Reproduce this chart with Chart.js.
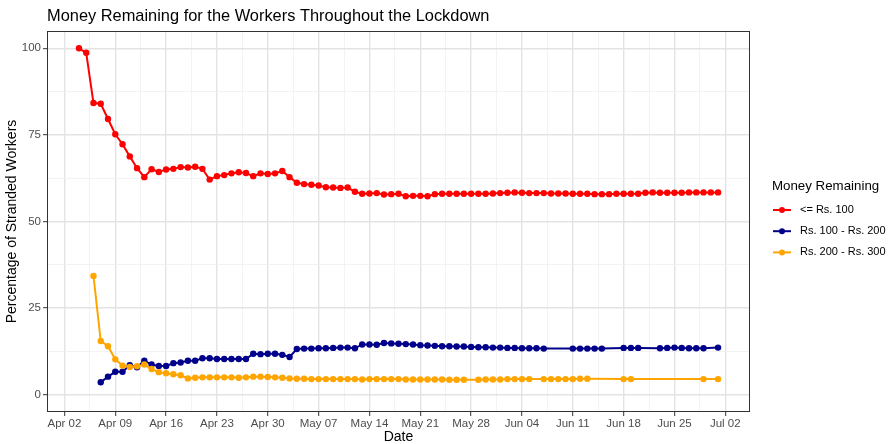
<!DOCTYPE html>
<html>
<head>
<meta charset="utf-8">
<script src="https://cdn.jsdelivr.net/npm/chart.js@4.4.1/dist/chart.umd.min.js"></script>
<style>
  html, body { margin: 0; padding: 0; background: #fff; }
</style>
</head>
<body>
<canvas id="grafico" width="890" height="444"></canvas>
<script>
// dados: um valor por dia a partir de 04 abr 2020 (null = dia sem registro)
const axisStart = "2020-04-02";
const firstDate = "2020-04-04";
const xTickLabels = ["Apr 02", "Apr 09", "Apr 16", "Apr 23", "Apr 30", "May 07", "May 14",
  "May 21", "May 28", "Jun 04", "Jun 11", "Jun 18", "Jun 25", "Jul 02"];
const yTickLabels = [0, 25, 50, 75, 100];
const seriesNames = ["<= Rs. 100", "Rs. 100 - Rs. 200", "Rs. 200 - Rs. 300"];

const ate100 = [
  // abr 04-30
  100, 98.7, 84.2, 84.0, 79.6, 75.2, 72.3, 68.8, 65.4, 62.8, 65.1, 64.3, 65.0, 65.2,
  65.7, 65.6, 65.8, 65.2, 62.1, 63.1, 63.4, 63.9, 64.2, 64.0, 63.1, 63.9, 63.7,
  // mai
  63.9, 64.6, 62.8, 61.2, 60.8, 60.6, 60.4, 59.9, 59.8, 59.7, 59.8, 58.6, 58.0, 58.1,
  58.2, 57.8, 57.9, 58.0, 57.3, 57.4, 57.4, 57.3, 57.9, 58.0, 58.0, 58.0, 58.0, 58.0,
  58.0, 58.0, 58.1,
  // jun
  58.2, 58.3, 58.4, 58.3, 58.2, 58.2, 58.2, 58.1, 58.1, 58.1, 58.0, 58.0, 58.0, 57.9,
  57.9, 57.9, 58.0, 58.0, 58.0, 58.0, 58.3, 58.4, 58.3, 58.3, 58.3, 58.3, 58.4, 58.4,
  58.4, 58.4,
  // jul 01
  58.4
];

const de100a200 = [
  null, null, null,
  3.6, 5.2, 6.6, 6.6, 8.5, 7.9, 9.8, 8.7, 8.3, 8.3, 9.1, 9.3, 9.8, 9.8, 10.5, 10.5,
  10.3, 10.3, 10.3, 10.3, 10.3, 11.8, 11.7, 11.8,
  11.8, 11.5, 10.9, 13.2, 13.3, 13.3, 13.4, 13.4, 13.5, 13.6, 13.6, 13.4, 14.5, 14.5,
  14.4, 14.9, 14.8, 14.7, 14.6, 14.5, 14.3, 14.2, 14.1, 14.0, 14.0, 13.9, 13.9, 13.8,
  13.7, 13.7, 13.6,
  13.6, 13.5, 13.5, 13.4, 13.4, 13.4, 13.3, null, null, null, 13.3, 13.3, 13.3, 13.3,
  13.3, null, null, 13.5, 13.5, 13.5, null, null, 13.4, 13.5, 13.6, 13.5, 13.4, 13.4,
  13.4, null,
  13.6
];

const de200a300 = [
  null, null,
  34.3, 15.5, 14.0, 10.2, 8.4, 8.0, 8.2, 8.7, 7.4, 6.5, 6.2, 5.9, 5.6, 4.7, 4.9, 5.0,
  5.0, 5.0, 5.0, 5.0, 4.9, 5.0, 5.2, 5.2, 5.1,
  5.0, 4.9, 4.7, 4.6, 4.6, 4.5, 4.5, 4.5, 4.5, 4.5, 4.5, 4.5, 4.4, 4.5, 4.5, 4.5, 4.5,
  4.5, 4.4, 4.4, 4.4, 4.4, 4.4, 4.4, 4.3, 4.3, 4.3, null, 4.3, 4.4, 4.4,
  4.4, 4.5, 4.5, 4.5, 4.5, null, 4.5, 4.5, 4.5, 4.5, 4.5, 4.6, 4.6, null, null, null,
  null, 4.5, 4.5, null, null, null, null, null, null, null, null, null, 4.5, null,
  4.5
];

const cores = ["#FF0000", "#00008B", "#FFA500"];
const fonte = "'Liberation Sans', Arial, sans-serif";

const DIA = 86400000;
const offset0 = (Date.parse(firstDate) - Date.parse(axisStart)) / DIA;

function pontos(lista) {
  return lista
    .map((v, i) => ({ x: offset0 + i, y: v }))
    .filter(p => p.y !== null);
}

// limites com a expansao de 5% do ggplot
const ultimoDia = offset0 + ate100.length - 1;
const folga = (ultimoDia - offset0) * 0.05;
const xMin = offset0 - folga, xMax = ultimoDia + folga;

const xGrade = [];
for (let i = 0; i < xTickLabels.length; i++) {
  xGrade.push(i * 7);
  if (i * 7 + 3.5 < xMax) xGrade.push(i * 7 + 3.5);
}
const yGrade = [];
yTickLabels.forEach((v, i) => {
  yGrade.push(v);
  if (i < yTickLabels.length - 1) yGrade.push(v + 12.5);
});

const ehMaiorX = v => v % 7 === 0;
const ehMaiorY = v => v % 25 === 0;

const molduraELegenda = {
  id: "molduraELegenda",
  afterDraw(chart) {
    const ctx = chart.ctx;
    const a = chart.chartArea;
    ctx.save();
    // borda do painel
    ctx.strokeStyle = "#333333";
    ctx.lineWidth = 1;
    ctx.strokeRect(a.left + 0.5, a.top + 0.5, a.right - a.left - 1, a.bottom - a.top - 1);

    // titulo
    ctx.fillStyle = "#000";
    ctx.font = "16.4px " + fonte;
    ctx.textBaseline = "middle";
    ctx.textAlign = "left";
    ctx.fillText("Money Remaining for the Workers Throughout the Lockdown", 47, 16);

    // legenda
    ctx.font = "13.3px " + fonte;
    ctx.fillText("Money Remaining", 772, 186);
    ctx.font = "11px " + fonte;
    chart.data.datasets.forEach((ds, i) => {
      const y = 210 + i * 21.2;
      ctx.strokeStyle = ds.borderColor;
      ctx.lineWidth = 2;
      ctx.beginPath();
      ctx.moveTo(773, y);
      ctx.lineTo(791, y);
      ctx.stroke();
      ctx.fillStyle = ds.borderColor;
      ctx.beginPath();
      ctx.arc(782, y, 3, 0, Math.PI * 2);
      ctx.fill();
      ctx.fillStyle = "#000";
      ctx.fillText(ds.label, 800, y);
    });
    ctx.restore();
  }
};

function serie(nome, valores, cor, ordem) {
  return {
    label: nome,
    data: pontos(valores),
    borderColor: cor,
    backgroundColor: cor,
    borderWidth: 2,
    pointRadius: 3.2,
    pointBorderWidth: 0,
    pointHoverRadius: 3.2,
    tension: 0,
    order: ordem
  };
}

new Chart(document.getElementById("grafico"), {
  type: "line",
  data: {
    datasets: [
      serie(seriesNames[0], ate100, cores[0], 3),
      serie(seriesNames[1], de100a200, cores[1], 2),
      serie(seriesNames[2], de200a300, cores[2], 1)
    ]
  },
  options: {
    responsive: false,
    animation: false,
    layout: { padding: { top: 31, right: 140, left: 0, bottom: 0 } },
    plugins: { legend: { display: false }, tooltip: { enabled: false } },
    scales: {
      x: {
        type: "linear",
        min: xMin,
        max: xMax,
        afterBuildTicks: s => { s.ticks = xGrade.map(v => ({ value: v })); },
        afterFit: s => { s.height = 32; },
        ticks: {
          autoSkip: false,
          maxRotation: 0,
          padding: 1,
          color: "#4D4D4D",
          font: { family: fonte, size: 11.5 },
          callback: v => ehMaiorX(v) ? xTickLabels[v / 7] : ""
        },
        grid: {
          color: c => ehMaiorX(c.tick.value) ? "#E3E3E3" : "#F0F0F0",
          lineWidth: c => ehMaiorX(c.tick.value) ? 1.4 : 0.8,
          tickColor: c => ehMaiorX(c.tick.value) ? "#333333" : "rgba(0,0,0,0)",
          tickWidth: 1,
          tickLength: 4
        },
        border: { display: false },
        title: {
          display: true,
          text: "Date",
          color: "#000",
          font: { family: fonte, size: 14, lineHeight: 1 },
          padding: { top: 0, bottom: 0 }
        }
      },
      y: {
        min: -5,
        max: 105,
        afterBuildTicks: s => { s.ticks = yGrade.map(v => ({ value: v })); },
        afterFit: s => { s.width = 47; },
        ticks: {
          autoSkip: false,
          padding: 2,
          color: "#4D4D4D",
          font: { family: fonte, size: 11.5 },
          callback: v => ehMaiorY(v) ? String(v) : ""
        },
        grid: {
          color: c => ehMaiorY(c.tick.value) ? "#E3E3E3" : "#F0F0F0",
          lineWidth: c => ehMaiorY(c.tick.value) ? 1.4 : 0.8,
          tickColor: c => ehMaiorY(c.tick.value) ? "#333333" : "rgba(0,0,0,0)",
          tickWidth: 1,
          tickLength: 4
        },
        border: { display: false },
        title: {
          display: true,
          text: "Percentage of Stranded Workers",
          color: "#000",
          font: { family: fonte, size: 14, lineHeight: 1 },
          padding: { top: 5, bottom: 0 }
        }
      }
    }
  },
  plugins: [molduraELegenda]
});
</script>
</body>
</html>
